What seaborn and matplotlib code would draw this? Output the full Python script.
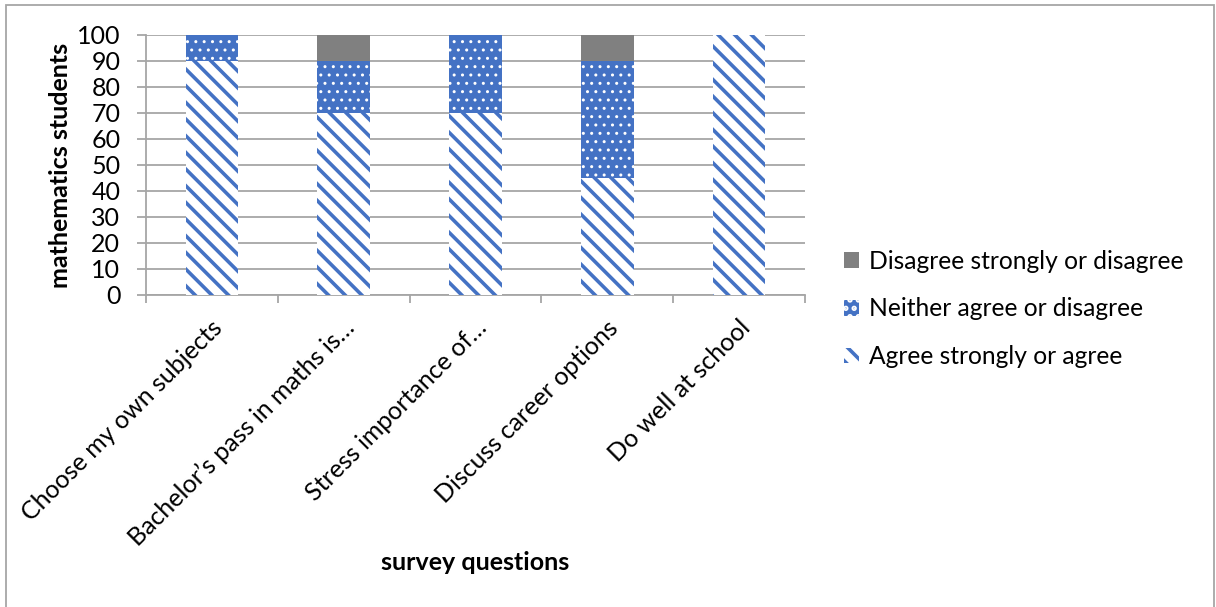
import matplotlib
matplotlib.use("Agg")
import matplotlib.pyplot as plt
import matplotlib.transforms as mtransforms
from matplotlib.patches import Rectangle, Patch
import seaborn as sns
import pandas as pd
import numpy as np

# Survey responses (percent of mathematics students)
questions = [
    "Choose my own subjects",
    "Bachelor\u2019s pass in maths is\u2026",
    "Stress importance of\u2026",
    "Discuss career options",
    "Do well at school",
]
agree = [90, 70, 70, 45, 100]
neither = [10, 20, 30, 45, 0]
disagree = [0, 10, 0, 10, 0]

series_names = [
    "Agree strongly or agree",
    "Neither agree or disagree",
    "Disagree strongly or disagree",
]

BLUE = "#4472C4"
GREY = "#808080"
GRID = "#a6a6a6"
FS = 18

sns.set_style("white")
plt.rcParams["font.family"] = ["Lato", "DejaVu Sans"]
plt.rcParams["text.color"] = "black"
plt.rcParams["xtick.labelcolor"] = "black"
plt.rcParams["ytick.labelcolor"] = "black"

df = pd.DataFrame({
    "question": questions,
    "agree": agree,
    "neither": neither,
    "disagree": disagree,
})
df["top_neither"] = df["agree"] + df["neither"]
df["top_all"] = df["top_neither"] + df["disagree"]

fig = plt.figure(figsize=(12.16, 6.07), dpi=100)
ax = fig.add_axes([146 / 1216, 1 - 295 / 607, (805 - 146) / 1216, (295 - 35) / 607])

# Stacked bars drawn as overlapping cumulative totals, tallest first
layers = [
    ("top_all", dict(facecolor=GREY, edgecolor=GREY, hatch=None, hlw=1.0)),
    ("top_neither", dict(facecolor=BLUE, edgecolor="white", hatch="..", hlw=1.0)),
    ("agree", dict(facecolor="white", edgecolor=BLUE, hatch="\\\\", hlw=2.6)),
]
for col, style in layers:
    n_before = len(ax.patches)
    with plt.rc_context({"hatch.linewidth": style["hlw"]}):
        sns.barplot(data=df, x="question", y=col, ax=ax, width=0.4,
                    color=style["facecolor"], linewidth=0, saturation=1,
                    errorbar=None)
    for p in ax.patches[n_before:]:
        p.set_facecolor(style["facecolor"])
        p.set_edgecolor(style["edgecolor"])
        p.set_linewidth(0)
        if style["hatch"]:
            p.set_hatch(style["hatch"])
        if hasattr(p, "set_hatch_linewidth"):
            p.set_hatch_linewidth(style["hlw"])
        p.set_zorder(3)

ax.set_ylim(0, 100)
ax.set_xlim(-0.5, len(questions) - 0.5)
ax.set_yticks(np.arange(0, 101, 10))
ax.yaxis.grid(True, color=GRID, linewidth=1.3, zorder=0)
ax.xaxis.grid(False)
ax.set_axisbelow(True)

for side in ["top", "right"]:
    ax.spines[side].set_visible(False)
for side in ["left", "bottom"]:
    ax.spines[side].set_color(GRID)
    ax.spines[side].set_linewidth(1.3)

ax.tick_params(axis="y", which="major", direction="out", length=6.5,
               width=1.3, color=GRID, labelsize=FS, pad=12, left=True,
               labelcolor="black")
# Category boundary ticks on the x axis
ax.set_xticks(np.arange(-0.5, len(questions)), minor=True)
ax.tick_params(axis="x", which="minor", direction="out", length=6,
               width=1.3, color=GRID, bottom=True)
ax.tick_params(axis="x", which="major", length=0, labelsize=FS, pad=21,
               labelcolor="black")
ax.set_xticks(range(len(questions)))
ax.set_xticklabels(questions, rotation=45, ha="right", va="center",
                   rotation_mode="anchor")
offset = mtransforms.ScaledTranslation(0.07, 0, fig.dpi_scale_trans)
for lbl in ax.get_xticklabels():
    lbl.set_transform(lbl.get_transform() + offset)

ax.set_xlabel("")
ax.set_ylabel("")
fig.text(60 / 1216, 1 - 165 / 607, "mathematics students", rotation=90,
         ha="center", va="center", fontsize=FS, fontweight="bold")
fig.text(475 / 1216, 1 - 563 / 607, "survey questions",
         ha="center", va="center", fontsize=FS, fontweight="bold")

# Legend with reversed series order
with plt.rc_context({"hatch.linewidth": 1.0}):
    h_dis = Patch(facecolor=GREY, edgecolor=GREY, linewidth=0)
    h_nei = Patch(facecolor=BLUE, edgecolor="white", hatch="..", linewidth=0)
with plt.rc_context({"hatch.linewidth": 2.6}):
    h_agr = Patch(facecolor="white", edgecolor=BLUE, hatch="\\\\", linewidth=0)
handles = [h_dis, h_nei, h_agr]
labels = series_names[::-1]
with plt.rc_context({"hatch.linewidth": 2.6}):
    fig.legend(handles, labels, loc="center left",
               bbox_to_anchor=(822 / 1216, 1 - 309 / 607), frameon=False,
               fontsize=17.7, handlelength=0.6, handleheight=0.6,
               handletextpad=0.4, labelspacing=1.0)

# Outer chart border
fig.patches.append(Rectangle((6 / 1216, -0.01), (1214 - 6) / 1216,
                             1 - 5 / 607 + 0.01, transform=fig.transFigure,
                             fill=False, edgecolor=GRID, linewidth=1.3))

fig.savefig("out.png", dpi=100)
